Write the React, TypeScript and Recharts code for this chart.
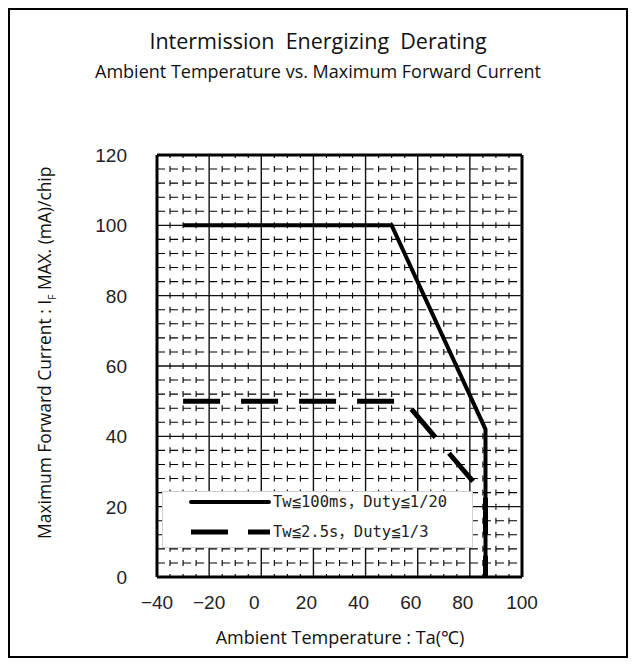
import React from 'react';
import { LineChart, Line, XAxis, YAxis, ReferenceLine, Legend } from 'recharts';

const tempTicks = [-40, -20, 0, 20, 40, 60, 80, 100];
const currentTicks = [0, 20, 40, 60, 80, 100, 120];
const minorTemp = [-35, -30, -25, -15, -10, -5, 5, 10, 15, 25, 30, 35, 45, 50, 55, 65, 70, 75, 85, 90, 95];
const minorCurrent = [4, 8, 12, 16, 24, 28, 32, 36, 44, 48, 52, 56, 64, 68, 72, 76, 84, 88, 92, 96, 104, 108, 112, 116];

const shortPulseTemp = [-30, 50, 86, 86];
const shortPulseCurrent = [100, 100, 42, 0];
const longPulseTemp = [-30, 55, 86, 86];
const longPulseCurrent = [50, 50, 23, 0];
const seriesNames = ['Tw≦100ms，Duty≦1/20', 'Tw≦2.5s，Duty≦1/3'];

const shortPulse = shortPulseTemp.map((t, i) => ({ temp: t, current: shortPulseCurrent[i] }));
const longPulse = longPulseTemp.map((t, i) => ({ temp: t, current: longPulseCurrent[i] }));

const TEXT_FONT = "'Open Sans', Lato, sans-serif";
const TICK_FONT = "'Liberation Sans', Arial, sans-serif";
const LEGEND_FONT = "'DejaVu Sans Mono', 'Noto Sans CJK JP', monospace";

const TempTick = (props: any) => {
  const { x, y, payload } = props;
  const v = payload.value as number;
  const shift = v >= 0 && v < 100 ? -7 : 0;
  return (
    <text x={x + shift} y={y} dy="0.71em" textAnchor="middle" fontFamily={TICK_FONT} fontSize={19} fill="#222">
      {v < 0 ? '\u2212' + Math.abs(v) : String(v)}
    </text>
  );
};

const CurrentTick = (props: any) => {
  const { x, y, payload } = props;
  return (
    <text x={x} y={y} dy="0.36em" textAnchor="end" fontFamily={TICK_FONT} fontSize={19} fill="#222">
      {String(payload.value)}
    </text>
  );
};

const renderLegend = () => (
  <div style={{ width: 311, height: 57, background: '#fff', border: '1px solid #d0d0d0', boxSizing: 'border-box', position: 'relative' }}>
    <svg width={311} height={57} style={{ position: 'absolute', left: -1, top: -1 }}>
      <line x1={29} x2={107} y1={11} y2={11} stroke="#000" strokeWidth={4} strokeLinecap="round" />
      <line x1={29} x2={108} y1={41} y2={41} stroke="#000" strokeWidth={5} strokeDasharray="37 20" />
      <text x={111} y={11} dy="0.35em" fontFamily={LEGEND_FONT} fontSize={15.5} fill="#222">{seriesNames[0]}</text>
      <text x={111} y={41} dy="0.35em" fontFamily={LEGEND_FONT} fontSize={15.5} fill="#222">{seriesNames[1]}</text>
    </svg>
  </div>
);

export default function App() {
  return (
    <div style={{ position: 'relative', width: 620, height: 650, border: '2px solid #000', boxSizing: 'border-box', background: '#fff' }}>
      <div style={{ position: 'absolute', left: 0, width: 616, top: 16, textAlign: 'center', fontFamily: TEXT_FONT, fontSize: 21.5, lineHeight: '30px', color: '#111' }}>
        Intermission&nbsp;&nbsp;Energizing&nbsp;&nbsp;Derating
      </div>
      <div style={{ position: 'absolute', left: 0, width: 616, top: 50, textAlign: 'center', fontFamily: TEXT_FONT, fontSize: 18, lineHeight: '22px', color: '#111' }}>
        Ambient Temperature vs. Maximum Forward Current
      </div>
      <div style={{ position: 'absolute', left: 170, width: 320, top: 616, textAlign: 'center', fontFamily: TEXT_FONT, fontSize: 18, lineHeight: '22px', color: '#111' }}>
        Ambient Temperature : Ta(℃)
      </div>
      <div style={{ position: 'absolute', left: 38 - 220, width: 440, top: 339 - 11, textAlign: 'center', fontFamily: TEXT_FONT, fontSize: 17.4, lineHeight: '22px', color: '#111', transform: 'rotate(-90deg)', whiteSpace: 'nowrap' }}>
        Maximum Forward Current : I<sub style={{ fontSize: 10 }}>F</sub> MAX. (mA)/chip
      </div>
      <div style={{ position: 'absolute', left: 0, top: 0 }}>
        <LineChart width={616} height={646} margin={{ top: 145, right: 104, bottom: 39, left: 87 }}>
          <XAxis
            dataKey="temp"
            type="number"
            domain={[-40, 100]}
            ticks={tempTicks}
            allowDataOverflow
            axisLine={{ stroke: '#000', strokeWidth: 3 }}
            tickLine={false}
            tickSize={0}
            tickMargin={19}
            height={40}
            tick={<TempTick />}
          />
          <YAxis
            dataKey="current"
            type="number"
            domain={[0, 120]}
            ticks={currentTicks}
            allowDataOverflow
            axisLine={{ stroke: '#000', strokeWidth: 3 }}
            tickLine={false}
            tickSize={0}
            tickMargin={30}
            width={60}
            tick={<CurrentTick />}
          />
          {minorTemp.map((t) => (
            <ReferenceLine key={'mt' + t} x={t} stroke="#000" strokeWidth={1.1} strokeDasharray="6 8.07" strokeDashoffset={3} />
          ))}
          {minorCurrent.map((c) => (
            <ReferenceLine key={'mc' + c} y={c} stroke="#000" strokeWidth={1.1} strokeDasharray="8 5.04" />
          ))}
          {tempTicks.slice(1, -1).map((t) => (
            <ReferenceLine key={'Mt' + t} x={t} stroke="#111" strokeWidth={1.4} />
          ))}
          {currentTicks.slice(1, -1).map((c) => (
            <ReferenceLine key={'Mc' + c} y={c} stroke="#111" strokeWidth={1.4} />
          ))}
          <ReferenceLine x={100} stroke="#000" strokeWidth={3} />
          <ReferenceLine y={120} stroke="#000" strokeWidth={3} />
          <Line
            data={shortPulse}
            dataKey="current"
            name={seriesNames[0]}
            type="linear"
            stroke="#000"
            strokeWidth={4}
            dot={false}
            activeDot={false}
            isAnimationActive={false}
          />
          <Line
            data={longPulse}
            dataKey="current"
            name={seriesNames[1]}
            type="linear"
            stroke="#000"
            strokeWidth={5}
            strokeDasharray="37 21"
            dot={false}
            activeDot={false}
            isAnimationActive={false}
          />
          <Legend
            layout="vertical"
            align="center"
            verticalAlign="middle"
            content={renderLegend}
            wrapperStyle={{ position: 'absolute', left: 152, top: 481, width: 311, height: 57 }}
          />
        </LineChart>
      </div>
    </div>
  );
}
